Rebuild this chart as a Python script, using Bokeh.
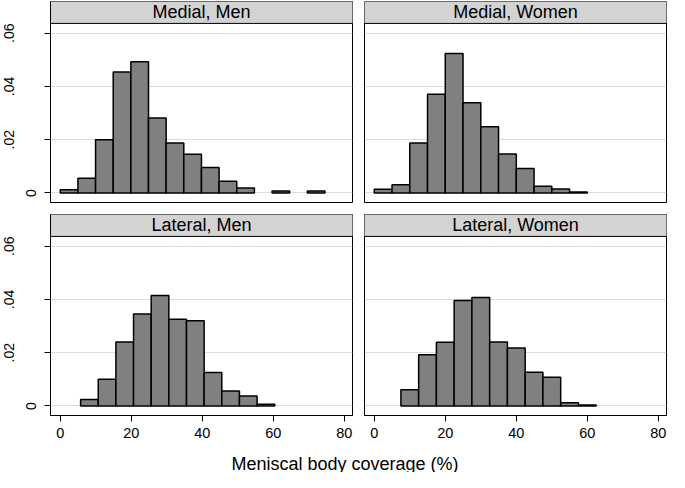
from bokeh.plotting import figure
from bokeh.layouts import gridplot, column
from bokeh.models import FixedTicker, LinearAxis, Range1d, Label
from bokeh.embed import file_html
from bokeh.resources import INLINE
from bokeh.core.properties import value

# ---------------- data ----------------
panel_titles = ["Medial, Men", "Medial, Women", "Lateral, Men", "Lateral, Women"]
bin_start = [0.0, 0.0, 5.73, 7.5]
bin_width = [4.97, 5.0, 4.97, 5.0]

medial_men = [0.0012, 0.0055, 0.0200, 0.0454, 0.0493, 0.0282, 0.0188, 0.0145,
              0.0096, 0.0044, 0.0019, 0.0, 0.0007, 0.0, 0.0007]
medial_women = [0.0014, 0.0031, 0.0188, 0.0371, 0.0524, 0.0339, 0.0249, 0.0146,
                0.0092, 0.0025, 0.0015, 0.0004]
lateral_men = [0.0024, 0.0100, 0.0240, 0.0345, 0.0415, 0.0326, 0.0320, 0.0126,
               0.0056, 0.0037, 0.0006]
lateral_women = [0.0061, 0.0192, 0.0239, 0.0396, 0.0407, 0.0240, 0.0218, 0.0127,
                 0.0108, 0.0012, 0.0004]
densities = [medial_men, medial_women, lateral_men, lateral_women]

x_ticks = [0, 20, 40, 60, 80]
x_tick_labels = ["0", "20", "40", "60", "80"]
y_ticks = [0, 0.02, 0.04, 0.06]
y_tick_labels = ["0", ".02", ".04", ".06"]
x_title = "Meniscal body coverage (%)"

# ---------------- style / layout ----------------
FONT = "Liberation Sans"
X_LO, X_HI = -2.75, 82.3
Y_LO, Y_PLOT_HI, Y_HI = -0.00358, 0.06369, 0.07192
FRAME_W, FRAME_H = 302, 201
LEFT_B = 50
BAR_FILL = "#808080"
HEAD_FILL = "#d3d3d3"
GRID_COL = "#dcdcdc"


def make_panel(i, left, top):
    bl = LEFT_B if left else 6
    br = 6 if left else 1
    bt = 1 if top else 6
    bb = 6 if top else 28
    p = figure(width=bl + FRAME_W + br, height=bt + FRAME_H + bb,
               x_range=Range1d(X_LO, X_HI), y_range=Range1d(Y_LO, Y_HI),
               output_backend="svg", toolbar_location=None,
               min_border_left=bl, min_border_right=br,
               min_border_top=bt, min_border_bottom=bb,
               x_axis_location=None if top else "below",
               y_axis_location="left" if left else None)
    p.background_fill_color = "white"
    p.border_fill_color = "white"
    p.outline_line_color = "black"
    p.outline_line_width = 1
    p.outline_line_alpha = 1

    # grids
    p.xgrid.visible = False
    p.ygrid.ticker = FixedTicker(ticks=y_ticks)
    p.ygrid.grid_line_color = GRID_COL
    p.ygrid.grid_line_width = 1.2

    # bars (skip empty bins)
    h = densities[i]
    lefts = [bin_start[i] + k * bin_width[i] for k in range(len(h)) if h[k] > 0]
    rights = [bin_start[i] + (k + 1) * bin_width[i] for k in range(len(h)) if h[k] > 0]
    tops = [v for v in h if v > 0]
    p.quad(left=lefts, right=rights, bottom=0, top=tops,
           fill_color=BAR_FILL, line_color="black", line_width=1.5)

    # header strip
    p.quad(left=[X_LO - 1], right=[X_HI + 1], bottom=[Y_PLOT_HI], top=[Y_HI + 0.002],
           fill_color=HEAD_FILL, line_color="black", line_width=1)
    p.text(x=[(X_LO + X_HI) / 2], y=[(Y_PLOT_HI + Y_HI) / 2], text=[panel_titles[i]],
           text_align="center", text_baseline="middle",
           text_font=value(FONT), text_font_size="18px", text_color="black")

    if left:
        ax = p.yaxis[0]
        ax.ticker = FixedTicker(ticks=y_ticks)
        ax.major_label_overrides = {t: (l if t == 0 else "") for t, l in zip(y_ticks, y_tick_labels)}
        ax.major_tick_out = 6
        ax.major_tick_in = 0
        ax.minor_tick_out = 0
        ax.minor_tick_in = 0
        ax.major_tick_line_color = "black"
        ax.axis_line_color = "black"
        ax.major_label_orientation = "vertical"
        ax.major_label_standoff = 8
        ax.major_label_text_font = FONT
        ax.major_label_text_font_size = "14px"
        ax.major_label_text_color = "black"

        outer = LinearAxis(ticker=FixedTicker(ticks=y_ticks[1:]),
                           major_label_overrides={t: l for t, l in zip(y_ticks[1:], y_tick_labels[1:])},
                           major_tick_out=0, major_tick_in=0,
                           minor_tick_out=0, minor_tick_in=0,
                           axis_line_color=None, major_tick_line_color=None,
                           major_label_orientation="vertical",
                           major_label_standoff=9,
                           major_label_text_font=FONT,
                           major_label_text_font_size="14px",
                           major_label_text_color="black")
        p.add_layout(outer, "left")

    if not top:
        xa = p.xaxis[0]
        xa.ticker = FixedTicker(ticks=x_ticks)
        xa.major_label_overrides = {t: l for t, l in zip(x_ticks, x_tick_labels)}
        xa.major_tick_out = 6
        xa.major_tick_in = 0
        xa.minor_tick_out = 0
        xa.minor_tick_in = 0
        xa.major_tick_line_color = "black"
        xa.axis_line_color = "black"
        xa.major_label_standoff = 6
        xa.major_label_text_font = FONT
        xa.major_label_text_font_size = "14.5px"
        xa.major_label_text_color = "black"
    return p


tl = make_panel(0, True, True)
tr = make_panel(1, False, True)
bl = make_panel(2, True, False)
br = make_panel(3, False, False)

total_w = LEFT_B + FRAME_W + 6 + 6 + FRAME_W + 1
TITLE_H = 472 - (1 + FRAME_H + 6) - (6 + FRAME_H + 28)
tfig = figure(width=total_w, height=TITLE_H, x_range=Range1d(0, total_w), y_range=Range1d(0, TITLE_H),
              output_backend="svg", toolbar_location=None, min_border=0,
              min_border_left=0, min_border_right=0, min_border_top=0, min_border_bottom=0,
              x_axis_location=None, y_axis_location=None)
tfig.outline_line_color = None
tfig.grid.visible = False
tfig.background_fill_color = "white"
tfig.border_fill_color = "white"
tfig.add_layout(Label(x=344.5, y=9, text=x_title, text_align="center", text_baseline="alphabetic",
                      text_font=FONT, text_font_size="18px", text_color="black"))

grid = gridplot([[tl, tr], [bl, br]], toolbar_location=None)
layout = column(grid, tfig)

open("out.html", "w").write(file_html(layout, INLINE, title="Meniscal body coverage"))
